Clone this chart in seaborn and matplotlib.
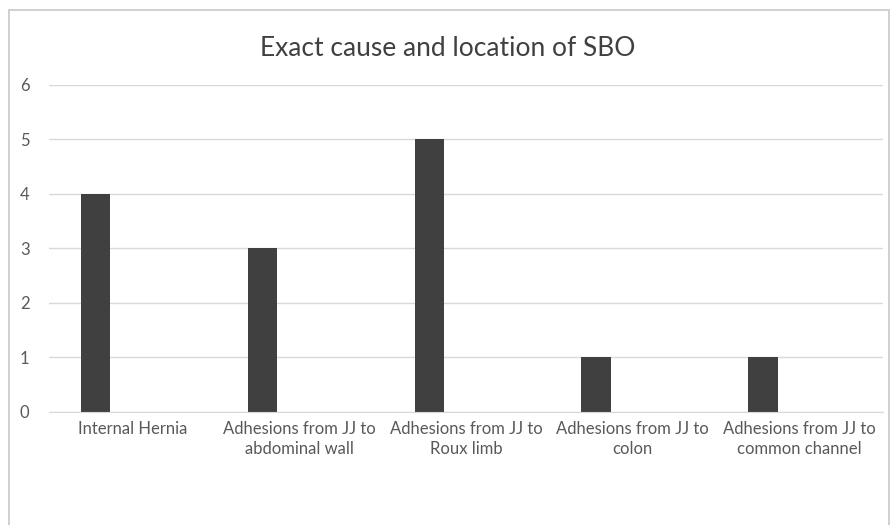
import pandas as pd
import matplotlib
matplotlib.use('Agg')
import matplotlib.pyplot as plt
import seaborn as sns
from matplotlib.patches import Rectangle

# Values
categories = ['Internal Hernia',
              'Adhesions from JJ to\nabdominal wall',
              'Adhesions from JJ to\nRoux limb',
              'Adhesions from JJ to\ncolon',
              'Adhesions from JJ to\ncommon channel']
counts = [4, 3, 5, 1, 1]
empty_series = [0, 0, 0, 0, 0]  # second (empty) series as in the original sheet
y_ticks = [0, 1, 2, 3, 4, 5, 6]

df = pd.DataFrame({
    'cause': categories * 2,
    'value': counts + empty_series,
    'series': ['Count'] * 5 + ['Empty'] * 5,
})

sns.set_style('white')
plt.rcParams['font.family'] = ['Lato', 'DejaVu Sans']
text_col = '#595959'

fig = plt.figure(figsize=(8.91, 5.25), dpi=100)
ax = fig.add_axes([0.055, 0.216, 0.936, 0.623])

sns.barplot(data=df, x='cause', y='value', hue='series', hue_order=['Count', 'Empty'],
            palette=['#404040', '#404040'], width=0.88, gap=0.6, linewidth=0,
            legend=False, ax=ax)

ax.set_ylim(0, 6)
ax.set_yticks(y_ticks)
ax.yaxis.grid(True, color='#d9d9d9', linewidth=1)
ax.set_axisbelow(True)
for s in ['top', 'right', 'left']:
    ax.spines[s].set_visible(False)
ax.spines['bottom'].set_color('#d9d9d9')
ax.tick_params(axis='both', length=0, colors=text_col, labelsize=12)
ax.tick_params(axis='y', pad=14)
ax.tick_params(axis='x', pad=7)
for lbl in ax.get_xticklabels():
    lbl.set_linespacing(1.3)
ax.set_xlabel('')
ax.set_ylabel('')

fig.text(0.502, 0.908, 'Exact cause and location of SBO', ha='center', va='center',
         fontsize=19, color='#404040')

# chart border
fig.patches.append(Rectangle((9 / 891, -0.01), 880 / 891, 1 - 10 / 525 + 0.01,
                             transform=fig.transFigure, fill=False,
                             edgecolor='#c8c8c8', linewidth=1.2))

plt.savefig('out.png', dpi=100)
